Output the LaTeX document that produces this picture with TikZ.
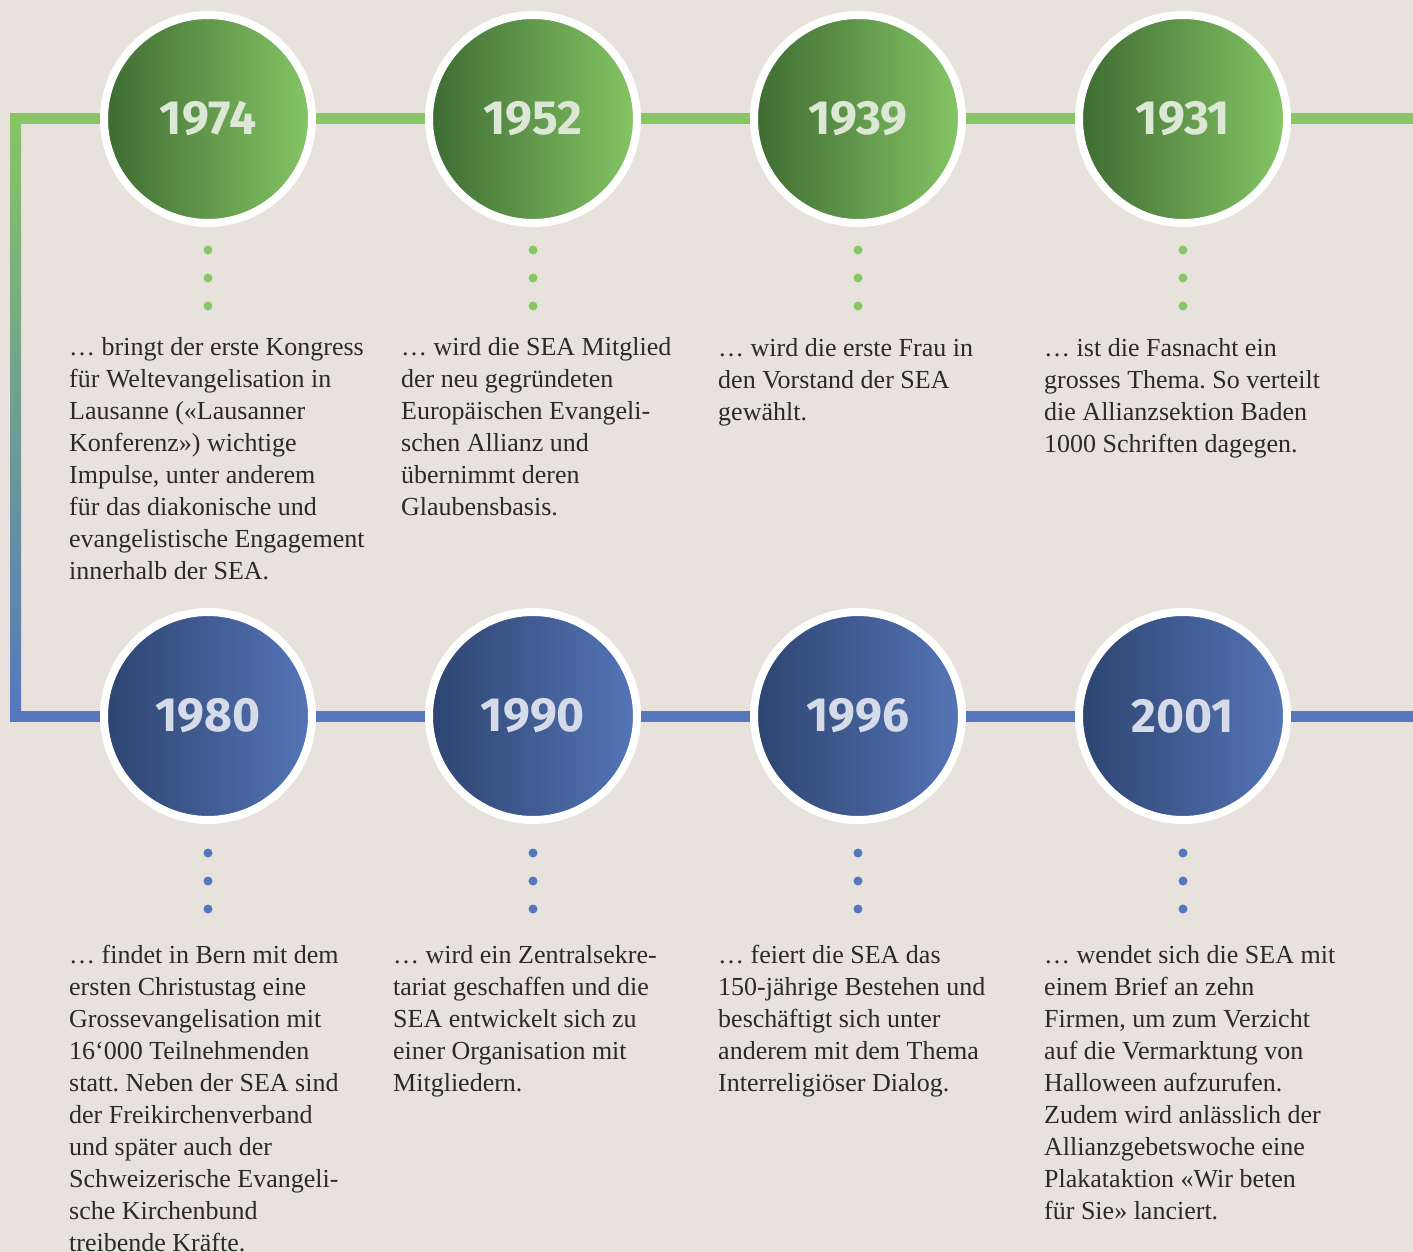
\documentclass[tikz,border=0pt]{standalone}
\usepackage{fontspec}
\setmainfont{Liberation Serif}
\newfontfamily\yearfont{Fira Sans}
\usetikzlibrary{positioning}
\frenchspacing

\definecolor{paper}{HTML}{E7E3DC}
\definecolor{ink}{HTML}{2B2A28}
\definecolor{lgreen}{HTML}{86C665}
\definecolor{dgreen}{HTML}{3D6B32}
\definecolor{tgreen}{HTML}{DDE7D6}
\definecolor{lblue}{HTML}{5677BE}
\definecolor{cblue}{HTML}{5575B7}
\definecolor{dblue}{HTML}{2D4470}
\definecolor{tblue}{HTML}{D6DBE9}

\begin{document}
\begin{tikzpicture}[x=1pt,y=-1pt,node distance=325pt,on grid,
    year/.style={circle,draw=white,line width=8pt,minimum size=208pt,inner sep=0pt,
      font=\yearfont\bfseries\fontsize{48}{48}\selectfont},
    yg/.style={year,left color=dgreen,right color=lgreen,text=tgreen},
    yb/.style={year,left color=dblue,right color=cblue,text=tblue},
    gline/.style={draw=lgreen,line width=11pt},
    bline/.style={draw=lblue,line width=11pt},
    txt/.style={anchor=north west,align=left,inner sep=0pt,text=ink,
      font=\fontsize{26}{32}\selectfont}]
  \useasboundingbox[fill=paper] (0,0) rectangle (1413,1252);

  % left bend, green to blue
  \shade[top color=lgreen,bottom color=lblue] (10,114) rectangle (21,721);
  \coordinate (tl) at (10,119);
  \coordinate (tr) at (1413,119);
  \coordinate (bl) at (10,716);
  \coordinate (br) at (1413,716);

  \node[yg] (y1974) at (208,119) {1974};
  \node[yg] (y1952) [right=of y1974] {1952};
  \node[yg] (y1939) [right=of y1952] {1939};
  \node[yg] (y1931) [right=of y1939] {1931};

  \node[yb] (y1980) [below=597pt of y1974] {1980};
  \node[yb] (y1990) [right=of y1980] {1990};
  \node[yb] (y1996) [right=of y1990] {1996};
  \node[yb] (y2001) [right=of y1996] {2001};

  \path[gline]
    (tl) edge (y1974)
    (y1974) edge (y1952)
    (y1952) edge (y1939)
    (y1939) edge (y1931)
    (y1931) edge (tr);
  \path[bline]
    (bl) edge (y1980)
    (y1980) edge (y1990)
    (y1990) edge (y1996)
    (y1996) edge (y2001)
    (y2001) edge (br);

  \foreach \x in {208,533,858,1183}{
    \foreach \y in {250,278,306} \fill[lgreen] (\x,\y) circle (4.5);
    \foreach \y in {853,881,909} \fill[lblue] (\x,\y) circle (4.5);
  }

  \node[txt] (t1974) at (69,333) {\strut… bringt der erste Kongress\\
    für Weltevangelisation in\\ Lausanne («Lausanner\\ Konferenz») wichtige\\
    Impulse, unter anderem\\ für das diakonische und\\
    evangelistische Engagement\\ innerhalb der SEA.};
  \node[txt] (t1952) at (401,333) {\strut… wird die SEA Mitglied\\
    der neu gegründeten\\ Europäischen Evangeli-\\ schen Allianz und\\
    übernimmt deren\\ Glaubensbasis.};
  \node[txt] (t1939) at (718,334) {\strut… wird die erste Frau in\\
    den Vorstand der SEA\\ gewählt.};
  \node[txt] (t1931) at (1044,334) {\strut… ist die Fasnacht ein\\
    grosses Thema. So verteilt\\ die Allianzsektion Baden\\
    1000 Schriften dagegen.};

  \node[txt] (t1980) at (69,941) {\strut… findet in Bern mit dem\\
    ersten Christustag eine\\ Grossevangelisation mit\\ 16‘000 Teilnehmenden\\
    statt. Neben der SEA sind\\ der Freikirchenverband\\ und später auch der\\
    Schweizerische Evangeli-\\ sche Kirchenbund\\ treibende Kräfte.};
  \node[txt] (t1990) at (393,941) {\strut… wird ein Zentralsekre-\\
    tariat geschaffen und die\\ SEA entwickelt sich zu\\
    einer Organisation mit\\ Mitgliedern.};
  \node[txt] (t1996) at (718,941) {\strut… feiert die SEA das\\
    150-jährige Bestehen und\\ beschäftigt sich unter\\
    anderem mit dem Thema\\ Interreligiöser Dialog.};
  \node[txt] (t2001) at (1044,941) {\strut… wendet sich die SEA mit\\
    einem Brief an zehn\\ Firmen, um zum Verzicht\\ auf die Vermarktung von\\
    Halloween aufzurufen.\\ Zudem wird anlässlich der\\
    Allianzgebetswoche eine\\ Plakataktion «Wir beten\\ für Sie» lanciert.};
\end{tikzpicture}
\end{document}
